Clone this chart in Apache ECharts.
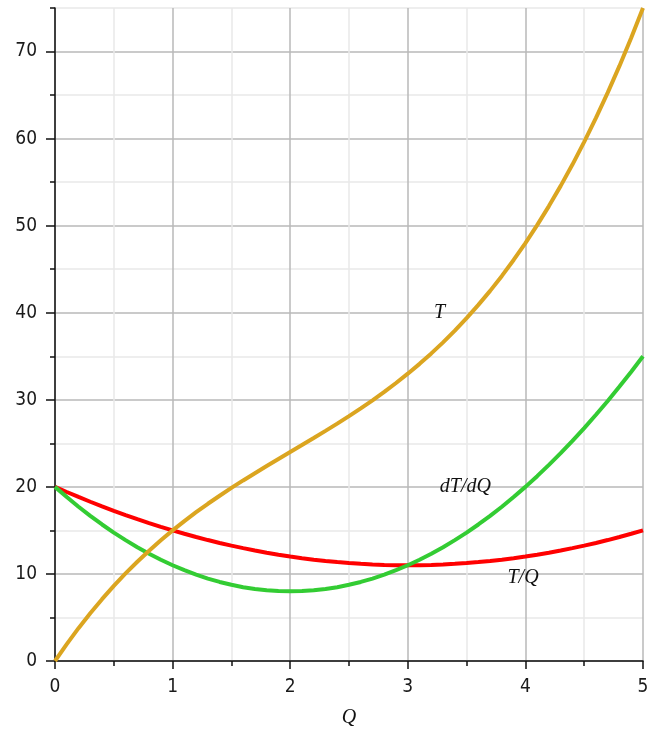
<!DOCTYPE html>
<html>
<head>
<meta charset="utf-8">
<script src="https://cdn.jsdelivr.net/npm/echarts@6/dist/echarts.min.js"></script>
<style>
  html, body { margin: 0; padding: 0; background: #fff; }
  #chart { width: 656px; height: 732px; }
</style>
</head>
<body>
<div id="chart"></div>
<script>
// Output levels Q, sampled every 0.1
const qValues = [0, 0.1, 0.2, 0.3, 0.4, 0.5, 0.6, 0.7, 0.8, 0.9,
  1, 1.1, 1.2, 1.3, 1.4, 1.5, 1.6, 1.7, 1.8, 1.9,
  2, 2.1, 2.2, 2.3, 2.4, 2.5, 2.6, 2.7, 2.8, 2.9,
  3, 3.1, 3.2, 3.3, 3.4, 3.5, 3.6, 3.7, 3.8, 3.9,
  4, 4.1, 4.2, 4.3, 4.4, 4.5, 4.6, 4.7, 4.8, 4.9, 5];

// Total T
const totalT = [0, 1.94, 3.77, 5.49, 7.10, 8.63, 10.06, 11.40, 12.67, 13.87,
  15, 16.07, 17.09, 18.06, 18.98, 19.88, 20.74, 21.57, 22.39, 23.20,
  24, 24.80, 25.61, 26.43, 27.26, 28.13, 29.02, 29.94, 30.91, 31.93,
  33, 34.13, 35.33, 36.60, 37.94, 39.38, 40.90, 42.51, 44.23, 46.06,
  48, 50.06, 52.25, 54.57, 57.02, 59.63, 62.38, 65.28, 68.35, 71.59, 75];

// Marginal dT/dQ
const marginal = [20, 18.83, 17.72, 16.67, 15.68, 14.75, 13.88, 13.07, 12.32, 11.63,
  11, 10.43, 9.92, 9.47, 9.08, 8.75, 8.48, 8.27, 8.12, 8.03,
  8, 8.03, 8.12, 8.27, 8.48, 8.75, 9.08, 9.47, 9.92, 10.43,
  11, 11.63, 12.32, 13.07, 13.88, 14.75, 15.68, 16.67, 17.72, 18.83,
  20, 21.23, 22.52, 23.87, 25.28, 26.75, 28.28, 29.87, 31.52, 33.23, 35];

// Average T/Q
const average = [20, 19.41, 18.84, 18.29, 17.76, 17.25, 16.76, 16.29, 15.84, 15.41,
  15, 14.61, 14.24, 13.89, 13.56, 13.25, 12.96, 12.69, 12.44, 12.21,
  12, 11.81, 11.64, 11.49, 11.36, 11.25, 11.16, 11.09, 11.04, 11.01,
  11, 11.01, 11.04, 11.09, 11.16, 11.25, 11.36, 11.49, 11.64, 11.81,
  12, 12.21, 12.44, 12.69, 12.96, 13.25, 13.56, 13.89, 14.24, 14.61, 15];

// Curve names and where they are written
const curveNames = ['T/Q', 'dT/dQ', 'T'];
const curveLabelAt = [[3.98, 9.6], [3.49, 20.0], [3.27, 40.0]];

const xTickLabels = ['0', '1', '2', '3', '4', '5'];
const yTickStep = 10;

const pairs = (ys) => qValues.map((q, i) => [q, ys[i]]);

const labelFont = {
  fontFamily: 'Liberation Serif, Times New Roman, serif',
  fontStyle: 'italic',
  fontSize: 20,
  color: '#111'
};

function curve(name, ys, color, labelPos) {
  return {
    name: name,
    type: 'line',
    data: pairs(ys),
    showSymbol: false,
    xAxisIndex: 0,
    yAxisIndex: 0,
    lineStyle: { color: color, width: 4 },
    itemStyle: { color: color },
    animation: false,
    markPoint: {
      symbol: 'circle',
      symbolSize: 0,
      data: [{ coord: labelPos, value: name }],
      label: Object.assign({ show: true, position: 'inside', formatter: name }, labelFont)
    }
  };
}

const tickFont = {
  fontFamily: 'Liberation Sans Narrow, DejaVu Sans Condensed, sans-serif',
  fontSize: 19,
  color: '#1a1a1a'
};

const chart = echarts.init(document.getElementById('chart'), null, { renderer: 'canvas' });

chart.setOption({
  animation: false,
  backgroundColor: '#ffffff',
  grid: [
    { left: 55, right: 13, top: 8, bottom: 71, containLabel: false, outerBoundsMode: 'none' },
    // second grid spans 0..70 only, carrying the long ticks at every 10
    { left: 55, right: 13, top: 8 + 653 * 5 / 75, bottom: 71, containLabel: false, outerBoundsMode: 'none' }
  ],
  xAxis: [
    {
      type: 'value', gridIndex: 0, min: 0, max: 5, interval: 1,
      name: 'Q', nameLocation: 'middle', nameGap: 47,
      nameTextStyle: labelFont,
      axisLine: { show: true, onZero: false, lineStyle: { color: '#111', width: 1.5 } },
      axisTick: { show: true, length: 8, lineStyle: { color: '#111', width: 1.5 } },
      minorTick: { show: true, splitNumber: 2, length: 5, lineStyle: { color: '#111', width: 1.5 } },
      axisLabel: Object.assign({ margin: 17, formatter: (v) => xTickLabels[Math.round(v)] }, tickFont),
      splitLine: { show: true, lineStyle: { color: '#b9b9b9', width: 1.5 } },
      minorSplitLine: { show: true, lineStyle: { color: '#e9e9e9', width: 1.5 } }
    },
    {
      type: 'value', gridIndex: 1, min: 0, max: 5, show: false
    }
  ],
  yAxis: [
    {
      type: 'value', gridIndex: 0, min: 0, max: 75, interval: 5,
      axisLine: { show: true, onZero: false, lineStyle: { color: '#111', width: 1.5 } },
      axisTick: { show: true, length: 5, lineStyle: { color: '#111', width: 1.5 } },
      axisLabel: Object.assign({
        margin: 18,
        formatter: (v) => (v % yTickStep === 0 ? String(v) : '')
      }, tickFont),
      splitLine: { show: true, lineStyle: { color: ['#b9b9b9', '#e9e9e9'], width: 1.5 } }
    },
    {
      type: 'value', gridIndex: 1, min: 0, max: 70, interval: yTickStep,
      axisLine: { show: false },
      axisTick: { show: true, length: 9, lineStyle: { color: '#111', width: 1.5 } },
      axisLabel: { show: false },
      splitLine: { show: false }
    }
  ],
  series: [
    curve(curveNames[0], average, '#ff0000', curveLabelAt[0]),
    curve(curveNames[1], marginal, '#33cc33', curveLabelAt[1]),
    curve(curveNames[2], totalT, '#dba520', curveLabelAt[2])
  ]
});
</script>
</body>
</html>
